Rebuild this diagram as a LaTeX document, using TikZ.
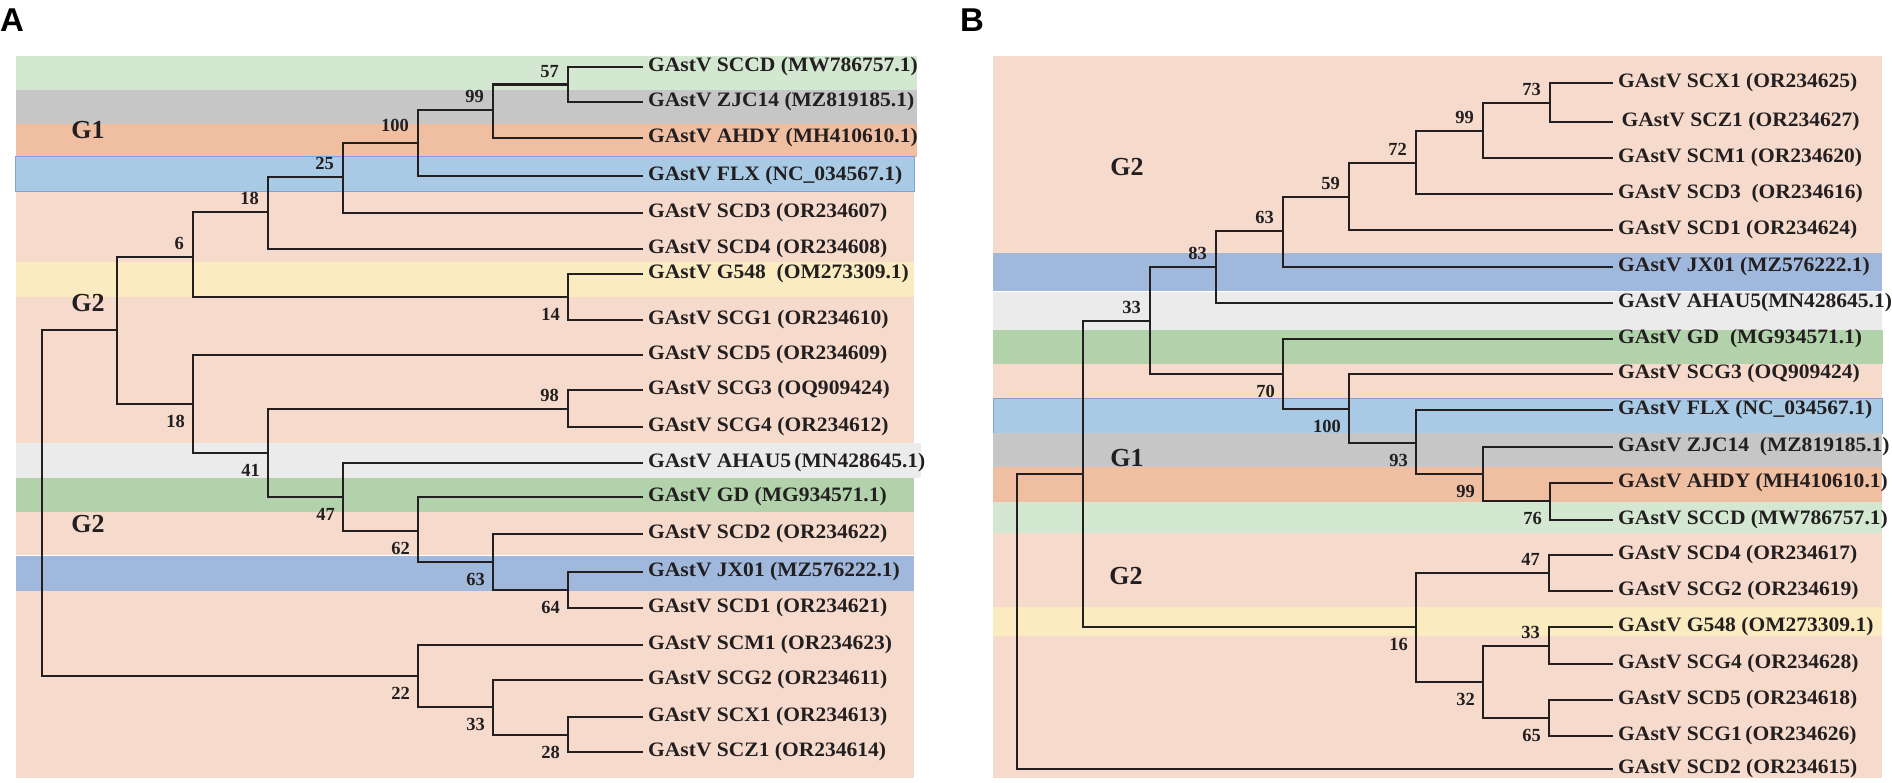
\documentclass[tikz,border=0pt]{standalone}
\usepackage{fontspec}
\setmainfont{Liberation Serif}
\newfontfamily\leaffont[FakeStretch=1.05]{Liberation Serif}
\newfontfamily\panelfont{Liberation Sans}
\usetikzlibrary{positioning}
\definecolor{tline}{HTML}{231F20}
\definecolor{cGreenL}{HTML}{D4E7D1}
\definecolor{cGray}{HTML}{C6C6C6}
\definecolor{cOrange}{HTML}{F0BFA2}
\definecolor{cBlueL}{HTML}{A8CAE5}
\definecolor{cBlueB}{HTML}{7EA3D4}
\definecolor{cSalmon}{HTML}{F6DBCD}
\definecolor{cYellow}{HTML}{FAEBC1}
\definecolor{cGrayL}{HTML}{EBEBEB}
\definecolor{cGreen}{HTML}{B1D2AB}
\definecolor{cBlue}{HTML}{A0B8DB}

\begin{document}
\begin{tikzpicture}[x=1pt,y=-1pt,
	branch/.style={draw=tline, line width=2.7pt, line join=miter},
	leaf/.style={anchor=west, inner xsep=5pt, inner ysep=0pt, text=tline, font=\leaffont\fontsize{20.5}{23}\selectfont\bfseries},
	bsup/.style={inner sep=0pt, text=tline, font=\fontsize{18.5}{21}\selectfont\bfseries, above left=7pt and 9pt of #1},
	bsdn/.style={inner sep=0pt, text=tline, font=\fontsize{18.5}{21}\selectfont\bfseries, below left=11pt and 8pt of #1},
	grp/.style={inner sep=0pt, text=tline, font=\fontsize{26}{30}\selectfont\bfseries},
	panel/.style={inner sep=0pt, text=black, font=\panelfont\fontsize{33}{36}\selectfont\bfseries}]
	\useasboundingbox (0,0) rectangle (1892,783);
	%% ========================================================
	\begin{scope}
		% colour bands
		\fill[cGreenL] (16,56) rectangle (917,90.5);
		\fill[cGray] (16,90.5) rectangle (917,124);
		\fill[cOrange] (16,124) rectangle (917,157);
		\filldraw[fill=cBlueL, draw=cBlueB, line width=1pt] (15,157) rectangle (914,192);
		\fill[cSalmon] (16,192) rectangle (914,262);
		\fill[cYellow] (16,262) rectangle (914,297);
		\fill[cSalmon] (16,297) rectangle (914,443);
		\fill[cGrayL] (16,443) rectangle (921,478);
		\fill[cGreen] (16,478) rectangle (914,512);
		\fill[cSalmon] (16,512) rectangle (914,554.5);
		\fill[cBlue] (16,556) rectangle (914,591);
		\fill[cSalmon] (16,591) rectangle (914,778);

		\node[panel] (labA) at (12,20) {A};
		\node[grp] (gA1) at (88,130) {G1};
		\node[grp] (gA2) at (88,303) {G2};
		\node[grp] (gA3) at (88,524) {G2};

		% leaves
		\node[leaf] (aSCCD) at (643,67) {GAstV SCCD (MW786757.1)};
		\node[leaf] (aZJC14) at (643,102) {GAstV ZJC14 (MZ819185.1)};
		\node[leaf] (aAHDY) at (643,138) {GAstV AHDY (MH410610.1)};
		\node[leaf] (aFLX) at (643,176) {GAstV FLX (NC\_034567.1)};
		\node[leaf] (aSCD3) at (643,213) {GAstV SCD3 (OR234607)};
		\node[leaf] (aSCD4) at (643,249) {GAstV SCD4 (OR234608)};
		\node[leaf] (aG548) at (643,274) {GAstV G548 \ (OM273309.1)};
		\node[leaf] (aSCG1) at (643,320) {GAstV SCG1 (OR234610)};
		\node[leaf] (aSCD5) at (643,355) {GAstV SCD5 (OR234609)};
		\node[leaf] (aSCG3) at (643,390) {GAstV SCG3 (OQ909424)};
		\node[leaf] (aSCG4) at (643,427) {GAstV SCG4 (OR234612)};
		\node[leaf] (aAHAU5) at (643,463) {GAstV AHAU5\,(MN428645.1)};
		\node[leaf] (aGD) at (643,497) {GAstV GD (MG934571.1)};
		\node[leaf] (aSCD2) at (643,534) {GAstV SCD2 (OR234622)};
		\node[leaf] (aJX01) at (643,572) {GAstV JX01 (MZ576222.1)};
		\node[leaf] (aSCD1) at (643,608) {GAstV SCD1 (OR234621)};
		\node[leaf] (aSCM1) at (643,645) {GAstV SCM1 (OR234623)};
		\node[leaf] (aSCG2) at (643,680) {GAstV SCG2 (OR234611)};
		\node[leaf] (aSCX1) at (643,717) {GAstV SCX1 (OR234613)};
		\node[leaf] (aSCZ1) at (643,752) {GAstV SCZ1 (OR234614)};

		% inner nodes
		\coordinate (aR) at (42,503);
		\coordinate (aG) at (117,330);
		\coordinate (a6) at (193,257);
		\coordinate (a18u) at (268,212);
		\coordinate (a25) at (343,177);
		\coordinate (a100) at (418,143);
		\coordinate (a99) at (493,110);
		\coordinate (a57) at (568,84.5);
		\coordinate (a14) at (568,297);
		\coordinate (a18l) at (193,404);
		\coordinate (a41) at (268,453);
		\coordinate (a98) at (568,409);
		\coordinate (a47) at (343,497);
		\coordinate (a62) at (418,531);
		\coordinate (a63) at (493,562);
		\coordinate (a64) at (568,590);
		\coordinate (a22) at (418,676);
		\coordinate (a33) at (493,707);
		\coordinate (a28) at (568,735);

		\draw[branch] (aSCCD.west) -| (a57) |- (aZJC14.west);
		\draw[branch] (a57) -| (a99) |- (aAHDY.west);
		\draw[branch] (a99) -| (a100) |- (aFLX.west);
		\draw[branch] (a100) -| (a25) |- (aSCD3.west);
		\draw[branch] (a25) -| (a18u) |- (aSCD4.west);
		\draw[branch] (a18u) -| (a6) |- (a14);
		\draw[branch] (aG548.west) -| (a14) |- (aSCG1.west);
		\draw[branch] (a6) -| (aG) |- (a18l);
		\draw[branch] (aSCD5.west) -| (a18l) |- (a41);
		\draw[branch] (a98) -| (a41) |- (a47);
		\draw[branch] (aSCG3.west) -| (a98) |- (aSCG4.west);
		\draw[branch] (aAHAU5.west) -| (a47) |- (a62);
		\draw[branch] (aGD.west) -| (a62) |- (a63);
		\draw[branch] (aSCD2.west) -| (a63) |- (a64);
		\draw[branch] (aJX01.west) -| (a64) |- (aSCD1.west);
		\draw[branch] (aG) -| (aR) |- (a22);
		\draw[branch] (aSCM1.west) -| (a22) |- (a33);
		\draw[branch] (aSCG2.west) -| (a33) |- (a28);
		\draw[branch] (aSCX1.west) -| (a28) |- (aSCZ1.west);

		% bootstrap values
		\node[bsup=a57] (la57) {57};
		\node[bsup=a99] (la99) {99};
		\node[bsup=a100, yshift=4pt] (la100) {100};
		\node[bsup=a25] (la25) {25};
		\node[bsup=a18u] (la18u) {18};
		\node[bsup=a6] (la6) {6};
		\node[bsup=a98] (la98) {98};
		\node[bsdn=a14] (la14) {14};
		\node[bsdn=a18l] (la18l) {18};
		\node[bsdn=a41] (la41) {41};
		\node[bsdn=a47] (la47) {47};
		\node[bsdn=a62] (la62) {62};
		\node[bsdn=a63] (la63) {63};
		\node[bsdn=a64] (la64) {64};
		\node[bsdn=a22] (la22) {22};
		\node[bsdn=a33] (la33) {33};
		\node[bsdn=a28] (la28) {28};
	\end{scope}
	%% ========================================================
	\begin{scope}
		% colour bands
		\fill[cSalmon] (993,56) rectangle (1882,253);
		\fill[cBlue] (993,253) rectangle (1882,291.5);
		\fill[cGrayL] (993,292.5) rectangle (1882,330);
		\fill[cGreen] (993,330) rectangle (1883,364);
		\fill[cSalmon] (993,364) rectangle (1882,398);
		\filldraw[fill=cBlueL, draw=cBlueB, line width=1pt] (993,398) rectangle (1882,433);
		\fill[cGray] (993,433) rectangle (1882,467);
		\fill[cOrange] (993,467) rectangle (1882,502);
		\fill[cGreenL] (993,502) rectangle (1882,533);
		\fill[cSalmon] (993,533) rectangle (1882,607);
		\fill[cYellow] (993,607) rectangle (1882,636);
		\fill[cSalmon] (993,636) rectangle (1882,778);

		\node[panel] (labB) at (972,20) {B};
		\node[grp] (gB1) at (1127,167) {G2};
		\node[grp] (gB2) at (1127,458) {G1};
		\node[grp] (gB3) at (1126,576) {G2};

		% leaves
		\node[leaf] (bSCX1) at (1613,83) {GAstV SCX1 (OR234625)};
		\node[leaf] (bSCZ1) at (1613,122) {\,GAstV SCZ1 (OR234627)};
		\node[leaf] (bSCM1) at (1613,158) {GAstV SCM1 (OR234620)};
		\node[leaf] (bSCD3) at (1613,194) {GAstV SCD3 \ (OR234616)};
		\node[leaf] (bSCD1) at (1613,230) {GAstV SCD1 (OR234624)};
		\node[leaf] (bJX01) at (1613,267) {GAstV JX01 (MZ576222.1)};
		\node[leaf] (bAHAU5) at (1613,303) {GAstV AHAU5(MN428645.1)};
		\node[leaf] (bGD) at (1613,339) {GAstV GD \ (MG934571.1)};
		\node[leaf] (bSCG3) at (1613,374) {GAstV SCG3 (OQ909424)};
		\node[leaf] (bFLX) at (1613,410) {GAstV FLX (NC\_034567.1)};
		\node[leaf] (bZJC14) at (1613,447) {GAstV ZJC14 \ (MZ819185.1)};
		\node[leaf] (bAHDY) at (1613,483) {GAstV AHDY (MH410610.1)};
		\node[leaf] (bSCCD) at (1613,520) {GAstV SCCD (MW786757.1)};
		\node[leaf] (bSCD4) at (1613,555) {GAstV SCD4 (OR234617)};
		\node[leaf] (bSCG2) at (1613,591) {GAstV SCG2 (OR234619)};
		\node[leaf] (bG548) at (1613,627) {GAstV G548 (OM273309.1)};
		\node[leaf] (bSCG4) at (1613,664) {GAstV SCG4 (OR234628)};
		\node[leaf] (bSCD5) at (1613,700) {GAstV SCD5 (OR234618)};
		\node[leaf] (bSCG1) at (1613,736) {GAstV SCG1\,(OR234626)};
		\node[leaf] (bSCD2) at (1613,769) {GAstV SCD2 (OR234615)};

		% inner nodes
		\coordinate (bR) at (1017,622);
		\coordinate (bG) at (1083,474);
		\coordinate (b33) at (1150,321);
		\coordinate (b83) at (1216,267);
		\coordinate (b63) at (1283,231);
		\coordinate (b59) at (1349,197);
		\coordinate (b72) at (1416,163);
		\coordinate (b99) at (1483,131);
		\coordinate (b73) at (1550,103);
		\coordinate (b70) at (1283,374);
		\coordinate (b100) at (1349,409);
		\coordinate (b93) at (1416,443);
		\coordinate (b99l) at (1483,474);
		\coordinate (b76) at (1550,501);
		\coordinate (b16) at (1416,627);
		\coordinate (b47) at (1549,573);
		\coordinate (b32) at (1483,682);
		\coordinate (b33l) at (1549,646);
		\coordinate (b65) at (1549,718);

		\draw[branch] (bSCX1.west) -| (b73) |- (bSCZ1.west);
		\draw[branch] (b73) -| (b99) |- (bSCM1.west);
		\draw[branch] (b99) -| (b72) |- (bSCD3.west);
		\draw[branch] (b72) -| (b59) |- (bSCD1.west);
		\draw[branch] (b59) -| (b63) |- (bJX01.west);
		\draw[branch] (b63) -| (b83) |- (bAHAU5.west);
		\draw[branch] (b83) -| (b33) |- (b70);
		\draw[branch] (bGD.west) -| (b70) |- (b100);
		\draw[branch] (bSCG3.west) -| (b100) |- (b93);
		\draw[branch] (bFLX.west) -| (b93) |- (b99l);
		\draw[branch] (bZJC14.west) -| (b99l) |- (b76);
		\draw[branch] (bAHDY.west) -| (b76) |- (bSCCD.west);
		\draw[branch] (b33) -| (bG) |- (b16);
		\draw[branch] (b47) -| (b16) |- (b32);
		\draw[branch] (bSCD4.west) -| (b47) |- (bSCG2.west);
		\draw[branch] (b33l) -| (b32) |- (b65);
		\draw[branch] (bG548.west) -| (b33l) |- (bSCG4.west);
		\draw[branch] (bSCD5.west) -| (b65) |- (bSCG1.west);
		\draw[branch] (bG) -| (bR) |- (bSCD2.west);

		% bootstrap values
		\node[bsup=b73] (lb73) {73};
		\node[bsup=b99] (lb99) {99};
		\node[bsup=b72] (lb72) {72};
		\node[bsup=b59] (lb59) {59};
		\node[bsup=b63] (lb63) {63};
		\node[bsup=b83] (lb83) {83};
		\node[bsup=b33] (lb33) {33};
		\node[bsup=b47] (lb47) {47};
		\node[bsup=b33l] (lb33l) {33};
		\node[bsdn=b70] (lb70) {70};
		\node[bsdn=b100] (lb100) {100};
		\node[bsdn=b93] (lb93) {93};
		\node[bsdn=b99l] (lb99l) {99};
		\node[bsdn=b76] (lb76) {76};
		\node[bsdn=b16] (lb16) {16};
		\node[bsdn=b32] (lb32) {32};
		\node[bsdn=b65] (lb65) {65};
	\end{scope}
	%% ========================================================
\end{tikzpicture}
\end{document}
